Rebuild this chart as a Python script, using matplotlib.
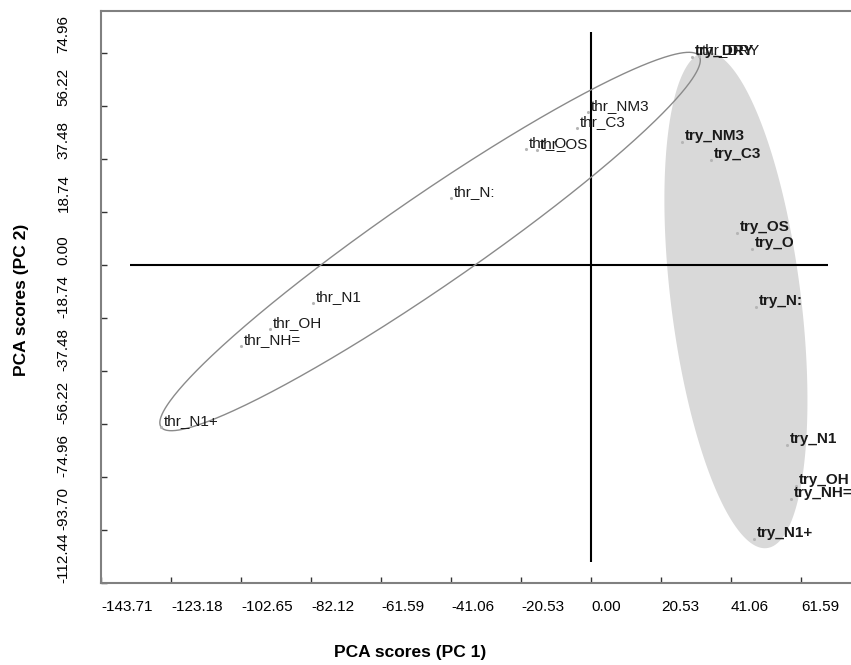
import numpy as np
import matplotlib
matplotlib.use("Agg")
import matplotlib.pyplot as plt

plt.rcParams['font.family'] = ['Liberation Sans', 'DejaVu Sans']

# ---- data ----
thr_names = ['thr_DRY', 'thr_NM3', 'thr_C3', 'thr_O', 'thr_OS', 'thr_N:',
             'thr_N1', 'thr_OH', 'thr_NH=', 'thr_N1+']
thr_pc1 = [31.7, -0.9, -4.1, -19.1, -15.8, -41.1, -81.5, -94.1, -102.6, -126.1]
thr_pc2 = [73.9, 54.1, 48.4, 41.0, 40.7, 23.7, -13.4, -22.6, -28.6, -57.3]

try_names = ['try_DRY', 'try_NM3', 'try_C3', 'try_OS', 'try_O', 'try_N:',
             'try_N1', 'try_OH', 'try_NH=', 'try_N1+']
try_pc1 = [29.6, 26.6, 35.2, 42.7, 47.3, 48.4, 57.6, 60.1, 58.6, 47.8]
try_pc2 = [73.5, 43.4, 37.1, 11.2, 5.66, -15.0, -63.6, -78.2, -82.9, -97.0]

xtick_vals = [-143.71, -123.18, -102.65, -82.12, -61.59, -41.06, -20.53, 0.00, 20.53, 41.06, 61.59]
xtick_labels = ['-143.71', '-123.18', '-102.65', '-82.12', '-61.59', '-41.06', '-20.53',
                '0.00', '20.53', '41.06', '61.59']
ytick_vals = [74.96, 56.22, 37.48, 18.74, 0.00, -18.74, -37.48, -56.22, -74.96, -93.70, -112.44]
ytick_labels = ['74.96', '56.22', '37.48', '18.74', '0.00', '-18.74', '-37.48', '-56.22',
                '-74.96', '-93.70', '-112.44']

# group ellipses: centre, two conjugate semi-axes (data units)
thr_ell_center = (-47.2, 8.3)
thr_ell_a = (78.9, 65.6)
thr_ell_b = (7.5, -13.1)
try_ell_center = (42.5, -12.4)
try_ell_a = (9.1, -87.7)
try_ell_b = (18.9, 2.85)

# ---- figure ----
fig = plt.figure(figsize=(8.51, 6.65), dpi=100)
ax = fig.add_axes([101 / 851, 1 - 583 / 665, 750 / 851, (583 - 11) / 665])
ax.set_xlim(-143.71, 76.25)
ax.set_ylim(-112.44, 89.8)

t = np.linspace(0, 2 * np.pi, 500)


def ellipse_pts(c, a, b):
    return (c[0] + a[0] * np.cos(t) + b[0] * np.sin(t),
            c[1] + a[1] * np.cos(t) + b[1] * np.sin(t))


ex, ey = ellipse_pts(try_ell_center, try_ell_a, try_ell_b)
ax.fill(ex, ey, color='#d9d9d9', lw=0, zorder=1)

# origin lines
ax.hlines(0, -135.2, 69.5, color='black', lw=1.5, zorder=2)
ax.vlines(0, -105.0, 82.4, color='black', lw=1.5, zorder=2)

ex, ey = ellipse_pts(thr_ell_center, thr_ell_a, thr_ell_b)
ax.plot(ex, ey, color='#8a8a8a', lw=1.0, zorder=3)

ax.scatter(thr_pc1, thr_pc2, s=5, color='#b5b5b5', zorder=4, linewidths=0)
ax.scatter(try_pc1, try_pc2, s=5, color='#b5b5b5', zorder=4, linewidths=0)

for n, x, y in zip(thr_names, thr_pc1, thr_pc2):
    ax.annotate(n, (x, y), xytext=(2, 1.5), textcoords='offset points',
                ha='left', va='baseline', fontsize=11, color='#1a1a1a', zorder=5)
for n, x, y in zip(try_names, try_pc1, try_pc2):
    ax.annotate(n, (x, y), xytext=(2, 1.5), textcoords='offset points',
                ha='left', va='baseline', fontsize=11, fontweight='bold',
                color='#1a1a1a', zorder=5)

# axes styling
for s in ['left', 'top', 'bottom']:
    ax.spines[s].set_color('#808080')
    ax.spines[s].set_linewidth(1.5)
ax.spines['right'].set_visible(False)

ax.set_xticks(xtick_vals)
ax.set_xticklabels(xtick_labels, ha='left', fontsize=11)
ax.set_yticks(ytick_vals)
ax.set_yticklabels(ytick_labels, rotation=90, va='bottom', fontsize=11)
ax.tick_params(axis='x', direction='in', length=4, width=1, color='#333333', pad=12)
ax.tick_params(axis='y', direction='in', length=4, width=1, color='#333333', pad=22)
ax.tick_params(top=False, right=False)

fig.text(410 / 851, 1 - 652 / 665, 'PCA scores (PC 1)', ha='center', va='center',
         fontsize=12.5, fontweight='bold')
fig.text(22 / 851, 1 - 300 / 665, 'PCA scores (PC 2)', ha='center', va='center',
         rotation=90, fontsize=12.5, fontweight='bold')

fig.savefig('out.png', dpi=100)
